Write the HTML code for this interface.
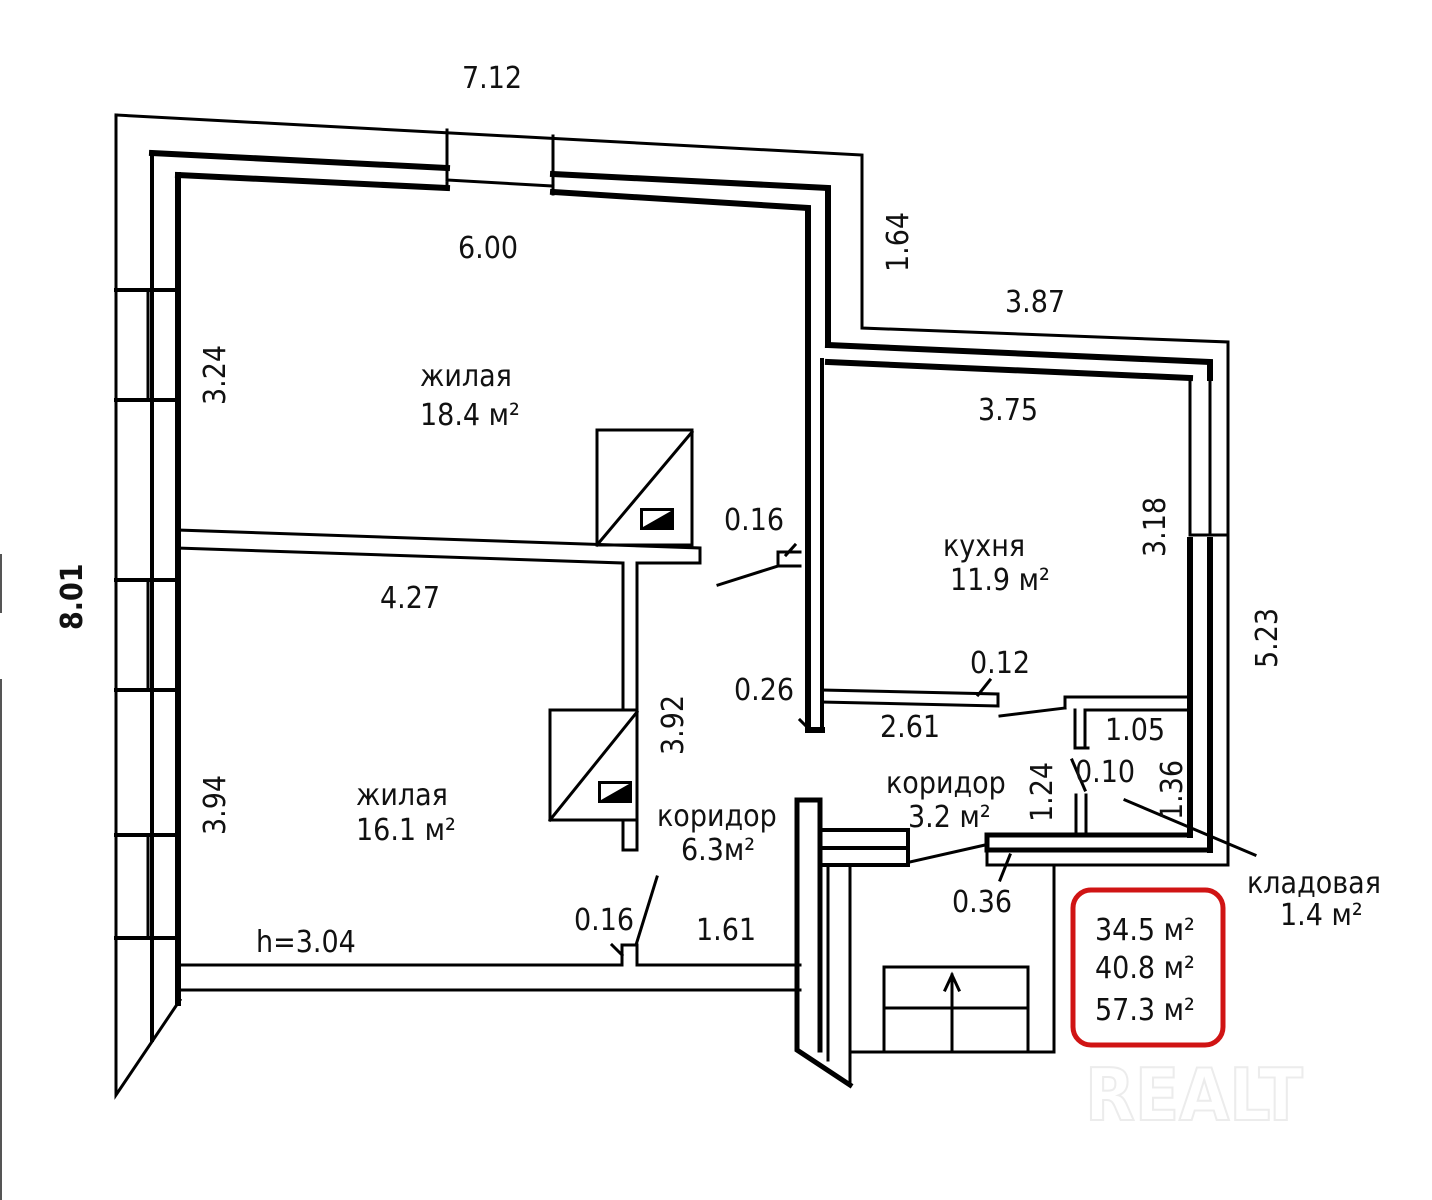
<!DOCTYPE html>
<html><head><meta charset="utf-8"><style>
html,body{margin:0;padding:0;background:#fff;}
svg{display:block;}
text{font-family:"DejaVu Sans Condensed","Liberation Sans",sans-serif;fill:#111;}
</style></head><body>
<svg width="1432" height="1200" viewBox="0 0 1432 1200" xmlns="http://www.w3.org/2000/svg">
<g fill="none" stroke="#000" stroke-linecap="square">
<path d="M116,115 L862,155 L862,328 L1228,342 L1228,845" stroke-width="3"/>
<path d="M116,115 L116,1095 L180,1000" stroke-width="3"/>
<path d="M152,153 L152,1040" stroke-width="4"/>
<path d="M178,175 L178,1003" stroke-width="6"/>
<path d="M116,290 H178 M116,400 H178 M116,580 H178 M116,690 H178 M116,835 H178 M116,938 H178" stroke-width="4"/>
<path d="M148,290 V400 M148,580 V690 M148,835 V938" stroke-width="3"/>
<path d="M152,153 L447,168 M553,174 L828,188 L828,345" stroke-width="6"/>
<path d="M178,175 L447,188 M553,192 L808,208 L808,730 L822,730" stroke-width="6"/>
<path d="M447,130 V188 M553,136 V194 M447,180 L553,186" stroke-width="3"/>
<path d="M822,360 V730" stroke-width="4"/>
<path d="M178,530 L700,548 L700,563 L640,563 M622,563 L178,548" stroke-width="3"/>
<path d="M623,563 V710 M637,563 V710 M623,820 V850 H637 V820" stroke-width="3"/>
<rect x="597" y="430" width="95" height="115" stroke-width="3"/>
<path d="M597,545 L692,432" stroke-width="3"/>
<rect x="550" y="710" width="87" height="110" stroke-width="3"/>
<path d="M550,820 L637,712" stroke-width="3"/>
<path d="M778,552 H800 M778,552 V566 H800 M718,585 L778,566" stroke-width="3"/>
<path d="M828,345 L1210,362 L1210,378" stroke-width="6"/>
<path d="M828,362 L1190,378" stroke-width="6"/>
<path d="M1190,378 V535 M1210,378 V535 M1190,535 H1228" stroke-width="3"/>
<path d="M1190,540 V835 M1210,540 V850" stroke-width="6"/>
<path d="M822,690 L998,694 L998,706 L822,702" stroke-width="3"/>
<path d="M1000,716 L1065,708" stroke-width="3"/>
<path d="M1065,708 V697 H1190 M1085,710 H1190 M1075,710 V748 H1088 M1085,710 V745" stroke-width="3"/>
<path d="M1076,795 V832 M1086,795 V832" stroke-width="3"/>
<path d="M1072,760 L1085,790" stroke-width="3"/>
<path d="M1125,800 L1255,855" stroke-width="3"/>
<path d="M987,835 H1190 M987,835 V850 H1210" stroke-width="5"/>
<path d="M987,850 V865 H1228 V845 M1054,865 V1052 H850" stroke-width="3"/>
<path d="M910,862 L985,845 M1010,855 L1000,880" stroke-width="3"/>
<path d="M797,800 H820 V1050 M797,800 V1050 L850,1085" stroke-width="5"/>
<path d="M820,830 H908 V865 H820 M820,848 H908" stroke-width="4"/>
<path d="M828,865 V1060 M850,865 V1085" stroke-width="3"/>
<path d="M180,965 H622 V945 H637 V965 H800 M180,990 H800" stroke-width="3"/>
<path d="M622,955 L612,945 M636,945 L657,877" stroke-width="3"/>
<path d="M884,1050 V967 H1028 V1050 M884,1008 H1028 M952,975 V1050 M945,990 L952,975 L959,990" stroke-width="3"/>
<path d="M786,555 L795,545 M800,720 L810,730 M978,695 L990,680" stroke-width="3"/>
<path d="M1,555 V612 M1,680 V1200" stroke-width="2" stroke="#555"/>
</g>
<rect x="640" y="508" width="34" height="22" fill="#000"/>
<path d="M643,527 L671,511 L643,511 Z" fill="#fff"/>
<rect x="598" y="781" width="34" height="22" fill="#000"/>
<path d="M601,800 L629,784 L601,784 Z" fill="#fff"/>
<rect x="1073" y="890" width="150" height="155" rx="18" fill="none" stroke="#d01414" stroke-width="5"/>
<text x="1085" y="1120" font-size="72" font-weight="bold" style="fill:none" stroke="#ececec" stroke-width="2">REALT</text>
<g font-size="30">
<text x="462" y="88">7.12</text>
<text x="458" y="258">6.00</text>
<text x="1005" y="312">3.87</text>
<text x="978" y="420">3.75</text>
<text x="380" y="608">4.27</text>
<text x="724" y="530">0.16</text>
<text x="734" y="700">0.26</text>
<text x="970" y="673">0.12</text>
<text x="880" y="737">2.61</text>
<text x="1105" y="740">1.05</text>
<text x="1075" y="782">0.10</text>
<text x="952" y="912">0.36</text>
<text x="574" y="930">0.16</text>
<text x="696" y="940">1.61</text>
<text x="256" y="952">h=3.04</text>
<text x="420" y="386">жилая</text>
<text x="420" y="425">18.4 м²</text>
<text x="356" y="805">жилая</text>
<text x="356" y="840">16.1 м²</text>
<text x="943" y="556">кухня</text>
<text x="950" y="590">11.9 м²</text>
<text x="657" y="826">коридор</text>
<text x="681" y="860">6.3м²</text>
<text x="886" y="793">коридор</text>
<text x="908" y="827">3.2 м²</text>
<text x="1247" y="893">кладовая</text>
<text x="1280" y="925">1.4 м²</text>
<text x="1095" y="940">34.5 м²</text>
<text x="1095" y="978">40.8 м²</text>
<text x="1095" y="1020">57.3 м²</text>
<text transform="translate(225,405) rotate(-90)">3.24</text>
<text transform="translate(225,835) rotate(-90)">3.94</text>
<text transform="translate(683,755) rotate(-90)">3.92</text>
<text transform="translate(908,272) rotate(-90)">1.64</text>
<text transform="translate(1165,557) rotate(-90)">3.18</text>
<text transform="translate(1277,668) rotate(-90)">5.23</text>
<text transform="translate(1182,820) rotate(-90)">1.36</text>
<text transform="translate(1052,822) rotate(-90)">1.24</text>
<text transform="translate(82,630) rotate(-90)" font-weight="bold">8.01</text>
</g>
</svg>
</body></html>
